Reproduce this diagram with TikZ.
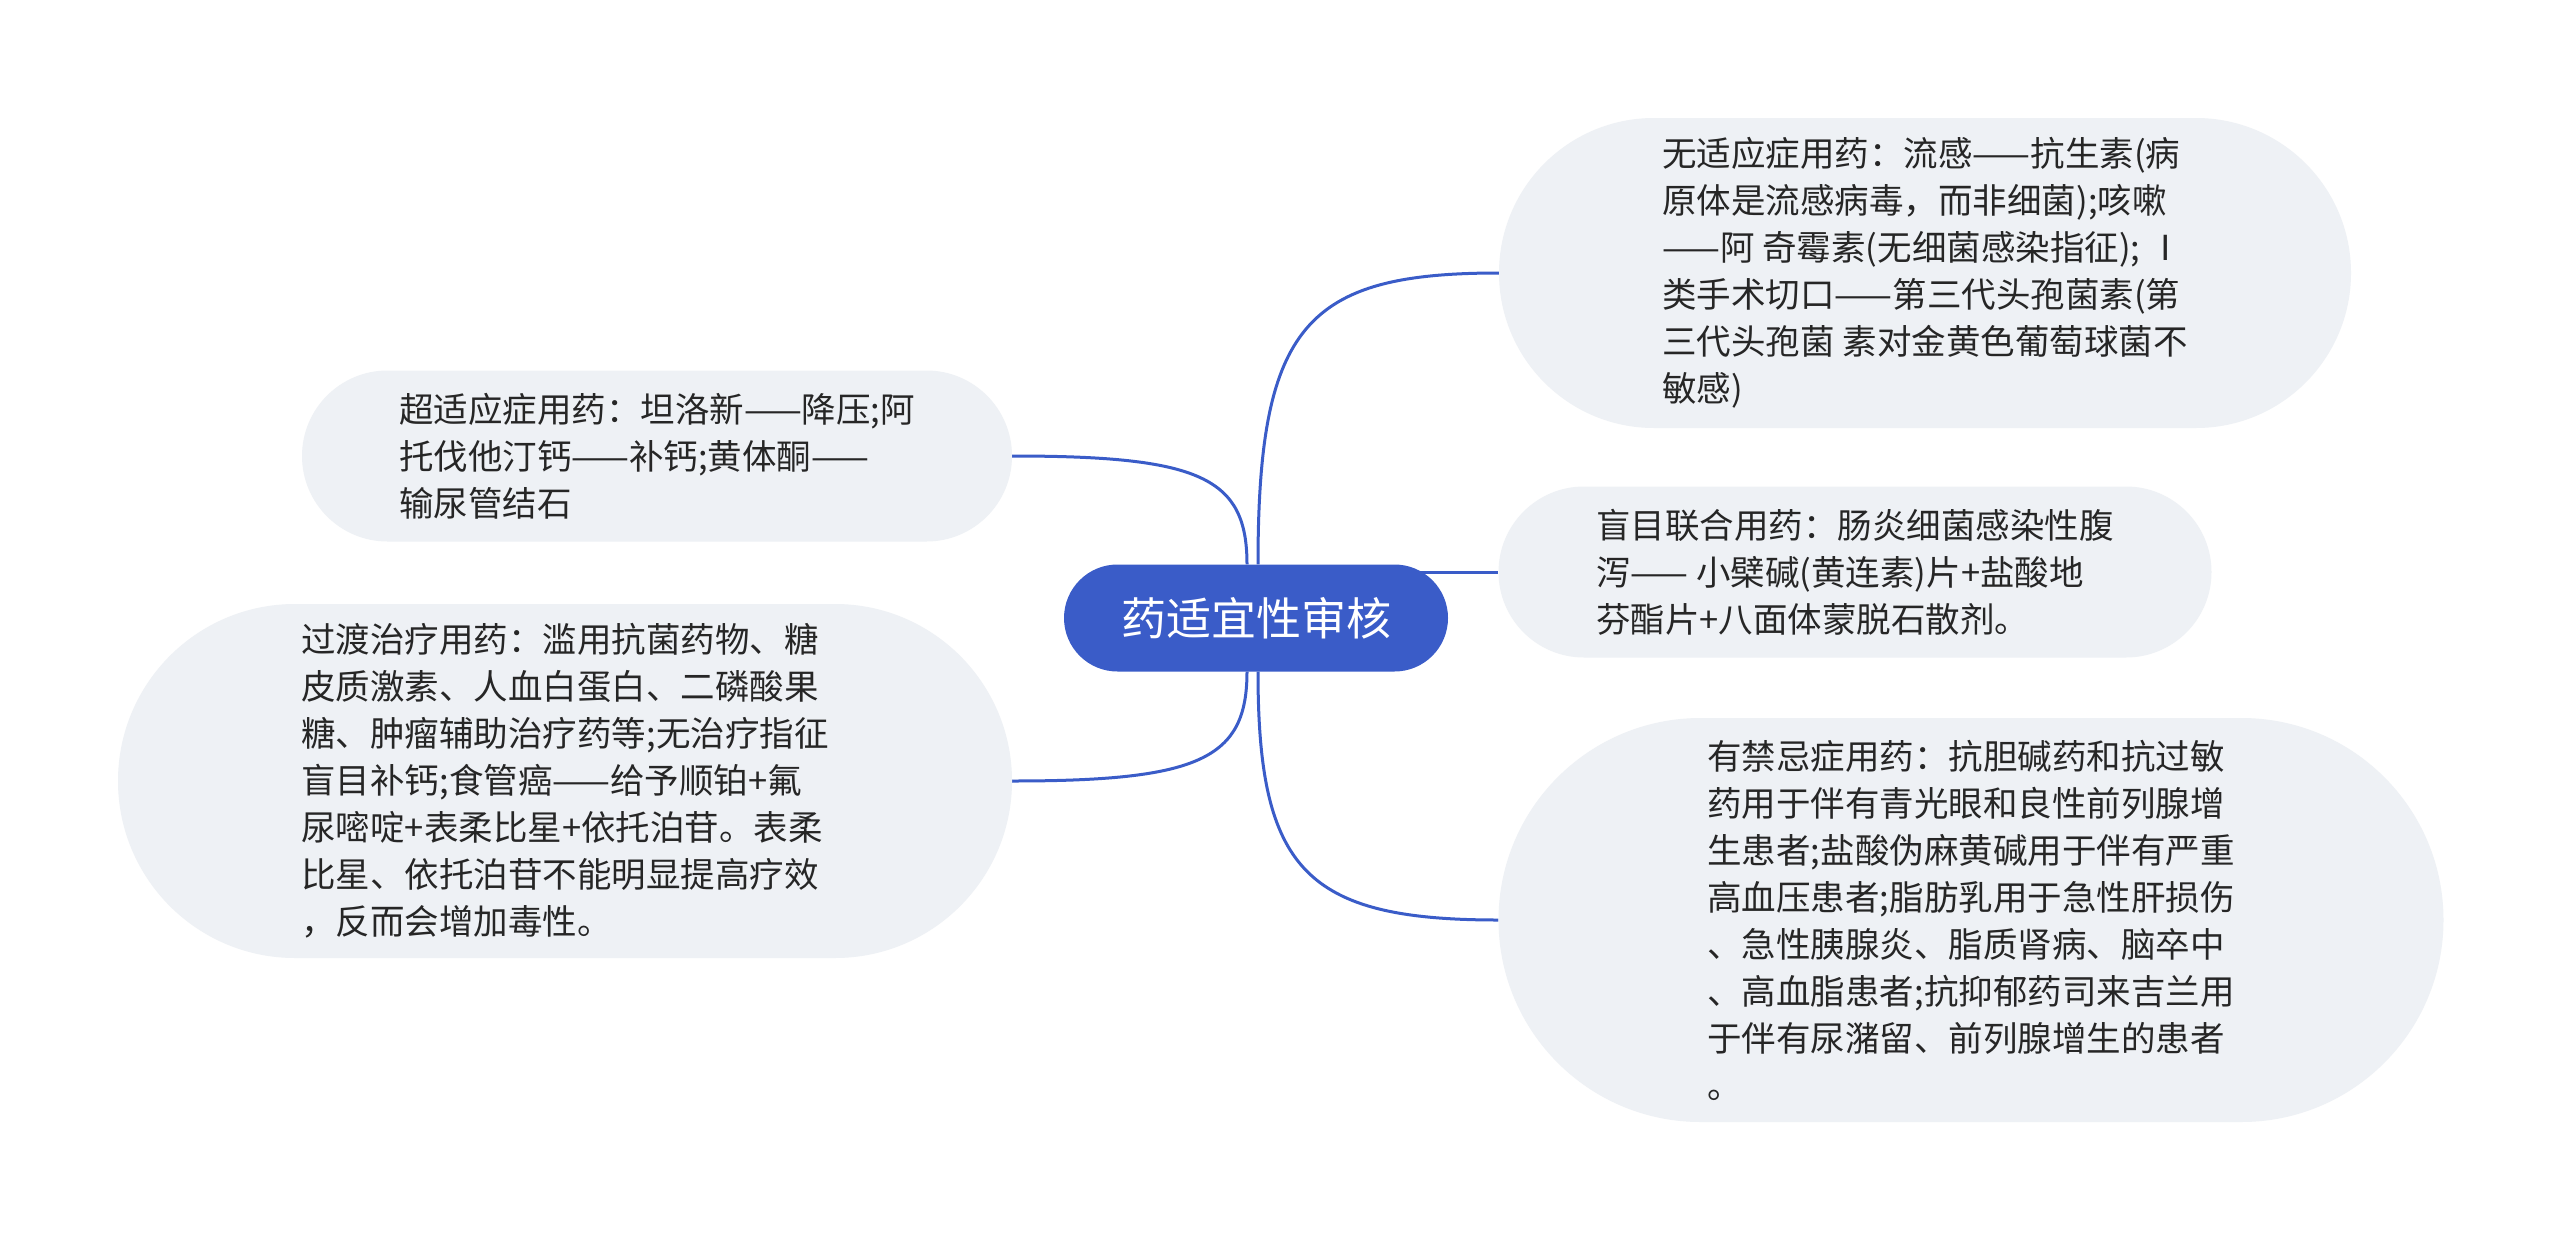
\documentclass[tikz,border=0pt]{standalone}
\usepackage{fontspec}
\newfontfamily\cjk{Noto Sans CJK SC}
\usetikzlibrary{backgrounds}
\definecolor{mainblue}{HTML}{3A5CC8}
\definecolor{boxfill}{HTML}{EEF1F5}
\definecolor{txt}{HTML}{262626}
\begin{document}
\begin{tikzpicture}[x=1pt,y=-1pt,
  leaf/.style={fill=boxfill, text=txt, align=left, inner sep=0pt,
    font=\cjk\fontsize{34.5}{47}\selectfont},
  root/.style={fill=mainblue, text=white, inner sep=0pt,
    font=\cjk\fontsize{45}{54}\selectfont,
    minimum width=384pt, minimum height=107pt, rounded corners=53.5pt},
  link/.style={draw=mainblue, line width=3pt}]
\useasboundingbox (0,0) rectangle (2560,1237);
\begin{scope}[on background layer]
\fill[white] (0,0) rectangle (2560,1237);
\end{scope}

\node[root] (c) at (1256,618) {药适宜性审核};

\node[leaf, minimum width=852pt, minimum height=310pt, rounded corners=155pt] (tr) at (1925,273)
 {无适应症用药：流感——抗生素(病\\原体是流感病毒，而非细菌);咳嗽\\——阿 奇霉素(无细菌感染指征); Ⅰ\\类手术切口——第三代头孢菌素(第\\三代头孢菌 素对金黄色葡萄球菌不\\敏感)};

\node[leaf, minimum width=713pt, minimum height=171pt, rounded corners=85.5pt] (mr) at (1855,572)
 {盲目联合用药：肠炎细菌感染性腹\\泻—— 小檗碱(黄连素)片+盐酸地\\芬酯片+八面体蒙脱石散剂。};

\node[leaf, minimum width=945pt, minimum height=404pt, rounded corners=202pt] (br) at (1971,920)
 {有禁忌症用药：抗胆碱药和抗过敏\\药用于伴有青光眼和良性前列腺增\\生患者;盐酸伪麻黄碱用于伴有严重\\高血压患者;脂肪乳用于急性肝损伤\\、急性胰腺炎、脂质肾病、脑卒中\\、高血脂患者;抗抑郁药司来吉兰用\\于伴有尿潴留、前列腺增生的患者\\。};

\node[leaf, minimum width=710pt, minimum height=171pt, rounded corners=85.5pt] (tl) at (657,456)
 {超适应症用药：坦洛新——降压;阿\\托伐他汀钙——补钙;黄体酮——\\输尿管结石};

\node[leaf, minimum width=894pt, minimum height=354pt, rounded corners=177pt] (bl) at (565,781)
 {过渡治疗用药：滥用抗菌药物、糖\\皮质激素、人血白蛋白、二磷酸果\\糖、肿瘤辅助治疗药等;无治疗指征\\盲目补钙;食管癌——给予顺铂+氟\\尿嘧啶+表柔比星+依托泊苷。表柔\\比星、依托泊苷不能明显提高疗效\\，反而会增加毒性。};

\begin{scope}[on background layer]
\draw[link] ([xshift=2pt]c.north) .. controls +(0,-239) and +(-193,0) .. (tr.west);
\draw[link] (c.center |- mr.west) -- (mr.west);
\draw[link] ([xshift=2pt]c.south) .. controls +(0,198) and +(-193,0) .. (br.west);
\draw[link] ([xshift=-9pt]c.north) .. controls +(0,-87) and +(188,0) .. (tl.east);
\draw[link] ([xshift=-9pt]c.south) .. controls +(0,87) and +(188,0) .. (bl.east);
\end{scope}
\end{tikzpicture}
\end{document}
